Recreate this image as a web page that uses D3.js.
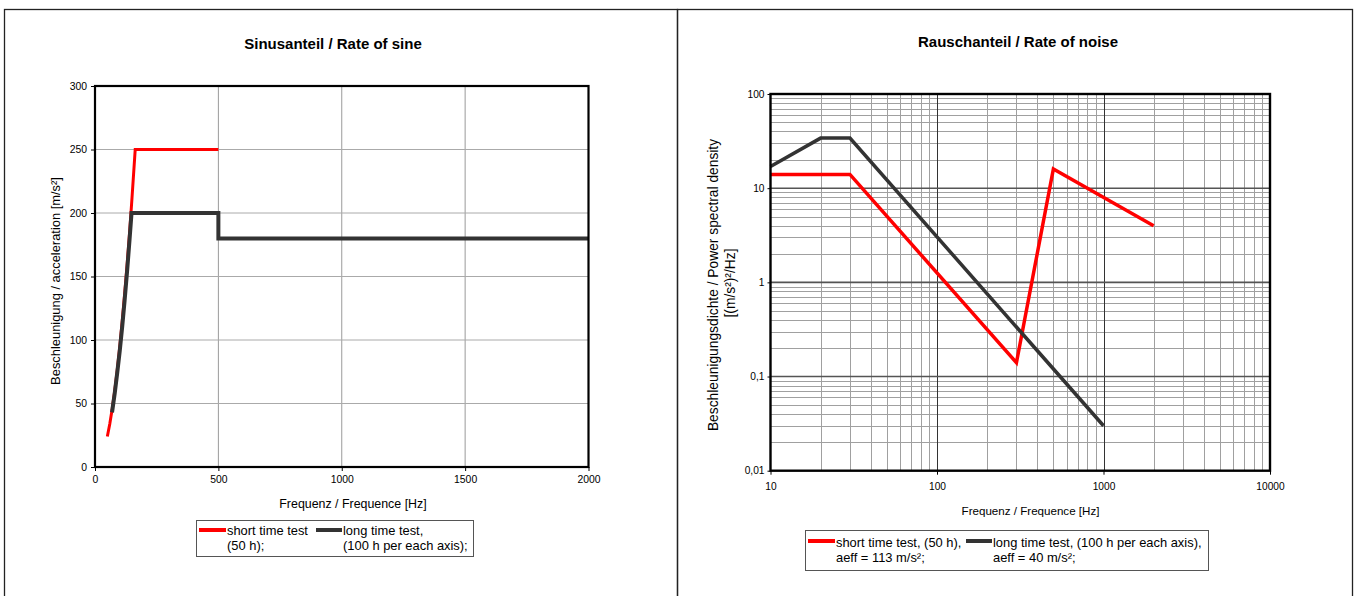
<!DOCTYPE html>
<html>
<head>
<meta charset="utf-8">
<script src="https://cdn.jsdelivr.net/npm/d3@7"></script>
<style>
	body { margin: 0; background: #fff; }
	svg text { font-family: 'Liberation Sans', Arial, sans-serif; fill: #000; }
</style>
</head>
<body>
<div id="charts"></div>
<script>
// Sinusanteil (left): frequency [Hz] / acceleration [m/s²]
const sineShortFreq = [ 50, 60, 70, 80, 90, 100, 110, 120, 130, 140, 150, 163, 500 ];
const sineShortAcc  = [ 24, 34, 46, 60, 76, 94, 114, 136, 159, 184, 212, 250, 250 ];
const sineLongFreq  = [ 69, 80, 90, 100, 110, 120, 130, 140, 148, 500, 500, 2000 ];
const sineLongAcc   = [ 43, 58, 74, 91, 110, 131, 154, 179, 200, 200, 180, 180 ];
const sineXTicks = [ 0, 500, 1000, 1500, 2000 ];
const sineYTicks = [ 0, 50, 100, 150, 200, 250, 300 ];

// Rauschanteil (right): frequency [Hz] / PSD [(m/s²)²/Hz]
const noiseShortFreq = [ 10, 30, 300, 500, 2000 ];
const noiseShortPsd  = [ 14, 14, 0.14, 16, 4 ];
const noiseLongFreq  = [ 10, 20, 30, 1000 ];
const noiseLongPsd   = [ 17, 34, 34, 0.03 ];
const noiseXTicks = [ 10, 100, 1000, 10000 ];
const noiseYTicks = [ 0.01, 0.1, 1, 10, 100 ];

const sineLegend  = [ [ 'short time test', '(50 h);' ], [ 'long time test,', '(100 h per each axis);' ] ];
const noiseLegend = [ [ 'short time test, (50 h),', 'aeff = 113 m/s²;' ], [ 'long time test, (100 h per each axis),', 'aeff = 40 m/s²;' ] ];

const RED = '#ff0000'
const DARK = '#333333'

const svg = d3.select('#charts').append('svg')
	.attr('width', 1355)
	.attr('height', 596)

// panel frames
svg.append('rect').attr('x', 4.5).attr('y', 9.5).attr('width', 673).attr('height', 620)
	.attr('fill', 'none').attr('stroke', '#222').attr('stroke-width', 1.3)
svg.append('rect').attr('x', 677.5).attr('y', 9.5).attr('width', 675).attr('height', 620)
	.attr('fill', 'none').attr('stroke', '#222').attr('stroke-width', 1.3)

const zip = (xs, ys) => xs.map((d, i) => [ d, ys[ i ] ])

const drawLegend = (g, box, items, textX) => {
	g.append('rect')
		.attr('x', box.x).attr('y', box.y).attr('width', box.w).attr('height', box.h)
		.attr('fill', '#fff').attr('stroke', '#555').attr('stroke-width', 1)
	items.forEach((it, i) => {
		g.append('line')
			.attr('x1', it.x1).attr('x2', it.x2)
			.attr('y1', box.y + box.sy).attr('y2', box.y + box.sy)
			.attr('stroke', it.color).attr('stroke-width', 4)
		const t = g.append('text')
			.attr('x', it.x2 + 1)
			.attr('y', box.y + box.l1)
			.style('font-size', box.fs + 'px')
		t.append('tspan').text(it.text[ 0 ])
		t.append('tspan').attr('x', it.x2 + 1).attr('dy', box.lh).text(it.text[ 1 ])
	})
}

// ---------- left: Sinusanteil ----------
{
	const x = d3.scaleLinear().domain([ 0, 2000 ]).range([ 95, 588.5 ])
	const y = d3.scaleLinear().domain([ 0, 300 ]).range([ 467, 86 ])
	const g = svg.append('g')

	// grid
	g.append('g').selectAll('line').data(sineXTicks.slice(1, -1)).enter().append('line')
		.attr('x1', d => x(d)).attr('x2', d => x(d))
		.attr('y1', y(300)).attr('y2', y(0))
		.attr('stroke', '#9a9a9a').attr('stroke-width', 1)
	g.append('g').selectAll('line').data(sineYTicks.slice(1, -1)).enter().append('line')
		.attr('x1', x(0)).attr('x2', x(2000))
		.attr('y1', d => y(d)).attr('y2', d => y(d))
		.attr('stroke', '#aaaaaa').attr('stroke-width', 1)

	// axes
	g.append('g')
		.attr('transform', `translate(0,${ y(0) })`)
		.call(d3.axisBottom(x).tickValues(sineXTicks).tickSize(4).tickPadding(5).tickFormat(d3.format('d')))
		.call(a => a.select('.domain').remove())
		.call(a => a.selectAll('line').attr('stroke', '#000'))
		.call(a => a.selectAll('text').style('font-size', '10.4px').attr('font-family', null))
	g.append('g')
		.attr('transform', `translate(${ x(0) },0)`)
		.call(d3.axisLeft(y).tickValues(sineYTicks).tickSize(4).tickPadding(4).tickFormat(d3.format('d')))
		.call(a => a.select('.domain').remove())
		.call(a => a.selectAll('line').attr('stroke', '#000'))
		.call(a => a.selectAll('text').style('font-size', '10.4px').attr('font-family', null))

	const line = d3.line().x(d => x(d[ 0 ])).y(d => y(d[ 1 ]))
	g.append('path').datum(zip(sineShortFreq, sineShortAcc)).attr('d', line)
		.attr('fill', 'none').attr('stroke', RED).attr('stroke-width', 3)
	g.append('path').datum(zip(sineLongFreq, sineLongAcc)).attr('d', line)
		.attr('fill', 'none').attr('stroke', DARK).attr('stroke-width', 4)

	// plot border
	g.append('rect').attr('x', x(0)).attr('y', y(300))
		.attr('width', x(2000) - x(0)).attr('height', y(0) - y(300))
		.attr('fill', 'none').attr('stroke', '#000').attr('stroke-width', 2.2)

	g.append('text').attr('x', 333).attr('y', 49).attr('text-anchor', 'middle')
		.style('font-size', '15px').style('font-weight', 'bold')
		.text('Sinusanteil / Rate of sine')
	g.append('text').attr('x', 353).attr('y', 508).attr('text-anchor', 'middle')
		.style('font-size', '12.4px')
		.text('Frequenz / Frequence [Hz]')
	g.append('text').attr('transform', 'translate(59.5,281) rotate(-90)').attr('text-anchor', 'middle')
		.style('font-size', '12.9px')
		.text('Beschleunigung / acceleration [m/s²]')

	drawLegend(g, { x: 196.5, y: 520.5, w: 277, h: 36, sy: 9.5, l1: 14, lh: 15, fs: 12.9 }, [
		{ x1: 199, x2: 226, color: RED, text: sineLegend[ 0 ] },
		{ x1: 316, x2: 342, color: DARK, text: sineLegend[ 1 ] }
	])
}

// ---------- right: Rauschanteil ----------
{
	const x = d3.scaleLog().domain([ 10, 10000 ]).range([ 770.5, 1270 ])
	const y = d3.scaleLog().domain([ 0.01, 100 ]).range([ 470.7, 94 ])
	const g = svg.append('g')

	const xMinor = x.ticks().filter(d => noiseXTicks.indexOf(d) === -1)
	const yMinor = y.ticks().filter(d => !noiseYTicks.some(t => Math.abs(t - d) / t < 1e-9))

	g.append('g').selectAll('line').data(xMinor).enter().append('line')
		.attr('x1', d => Math.round(x(d)) + 0.5).attr('x2', d => Math.round(x(d)) + 0.5)
		.attr('y1', y(100)).attr('y2', y(0.01))
		.attr('stroke', '#a0a0a0').attr('stroke-width', 1)
	g.append('g').selectAll('line').data(yMinor).enter().append('line')
		.attr('x1', x(10)).attr('x2', x(10000))
		.attr('y1', d => Math.round(y(d)) + 0.5).attr('y2', d => Math.round(y(d)) + 0.5)
		.attr('stroke', '#a0a0a0').attr('stroke-width', 1)
	// major grid
	g.append('g').selectAll('line').data(noiseXTicks.slice(1, -1)).enter().append('line')
		.attr('x1', d => Math.round(x(d)) + 0.5).attr('x2', d => Math.round(x(d)) + 0.5)
		.attr('y1', y(100)).attr('y2', y(0.01))
		.attr('stroke', '#333').attr('stroke-width', 1)
	g.append('g').selectAll('line').data(noiseYTicks.slice(1, -1)).enter().append('line')
		.attr('x1', x(10)).attr('x2', x(10000))
		.attr('y1', d => y(d)).attr('y2', d => y(d))
		.attr('stroke', '#555').attr('stroke-width', 1.6)

	const fmtY = d => d < 1 ? String(d).replace('.', ',') : String(d)
	g.append('g')
		.attr('transform', `translate(0,${ y(0.01) })`)
		.call(d3.axisBottom(x).tickValues(noiseXTicks).tickSize(4).tickPadding(8).tickFormat(d3.format('d')))
		.call(a => a.select('.domain').remove())
		.call(a => a.selectAll('line').attr('stroke', '#000'))
		.call(a => a.selectAll('text').style('font-size', '10.2px').attr('font-family', null))
	g.append('g')
		.attr('transform', `translate(${ x(10) },0)`)
		.call(d3.axisLeft(y).tickValues(noiseYTicks).tickSize(3).tickPadding(3).tickFormat(fmtY))
		.call(a => a.select('.domain').remove())
		.call(a => a.selectAll('line').attr('stroke', '#000'))
		.call(a => a.selectAll('text').style('font-size', '10.2px').attr('font-family', null))

	const line = d3.line().x(d => x(d[ 0 ])).y(d => y(d[ 1 ]))
	g.append('path').datum(zip(noiseShortFreq, noiseShortPsd)).attr('d', line)
		.attr('fill', 'none').attr('stroke', RED).attr('stroke-width', 3.5)
	g.append('path').datum(zip(noiseLongFreq, noiseLongPsd)).attr('d', line)
		.attr('fill', 'none').attr('stroke', DARK).attr('stroke-width', 3.5)

	g.append('rect').attr('x', x(10)).attr('y', y(100))
		.attr('width', x(10000) - x(10)).attr('height', y(0.01) - y(100))
		.attr('fill', 'none').attr('stroke', '#000').attr('stroke-width', 2.4)

	g.append('text').attr('x', 1018).attr('y', 47).attr('text-anchor', 'middle')
		.style('font-size', '15px').style('font-weight', 'bold')
		.text('Rauschanteil / Rate of noise')
	g.append('text').attr('x', 1030.5).attr('y', 515).attr('text-anchor', 'middle')
		.style('font-size', '11.6px')
		.text('Frequenz / Frequence [Hz]')
	g.append('text').attr('transform', 'translate(718,285) rotate(-90)').attr('text-anchor', 'middle')
		.style('font-size', '13.8px')
		.text('Beschleunigungsdichte / Power spectral density')
	g.append('text').attr('transform', 'translate(735,283) rotate(-90)').attr('text-anchor', 'middle')
		.style('font-size', '13.8px')
		.text('[(m/s²)²/Hz]')

	drawLegend(g, { x: 805.5, y: 530.5, w: 403, h: 40, sy: 10.5, l1: 16, lh: 15.5, fs: 12.9 }, [
		{ x1: 808, x2: 835, color: RED, text: noiseLegend[ 0 ] },
		{ x1: 966, x2: 992, color: DARK, text: noiseLegend[ 1 ] }
	])
}
</script>
</body>
</html>
